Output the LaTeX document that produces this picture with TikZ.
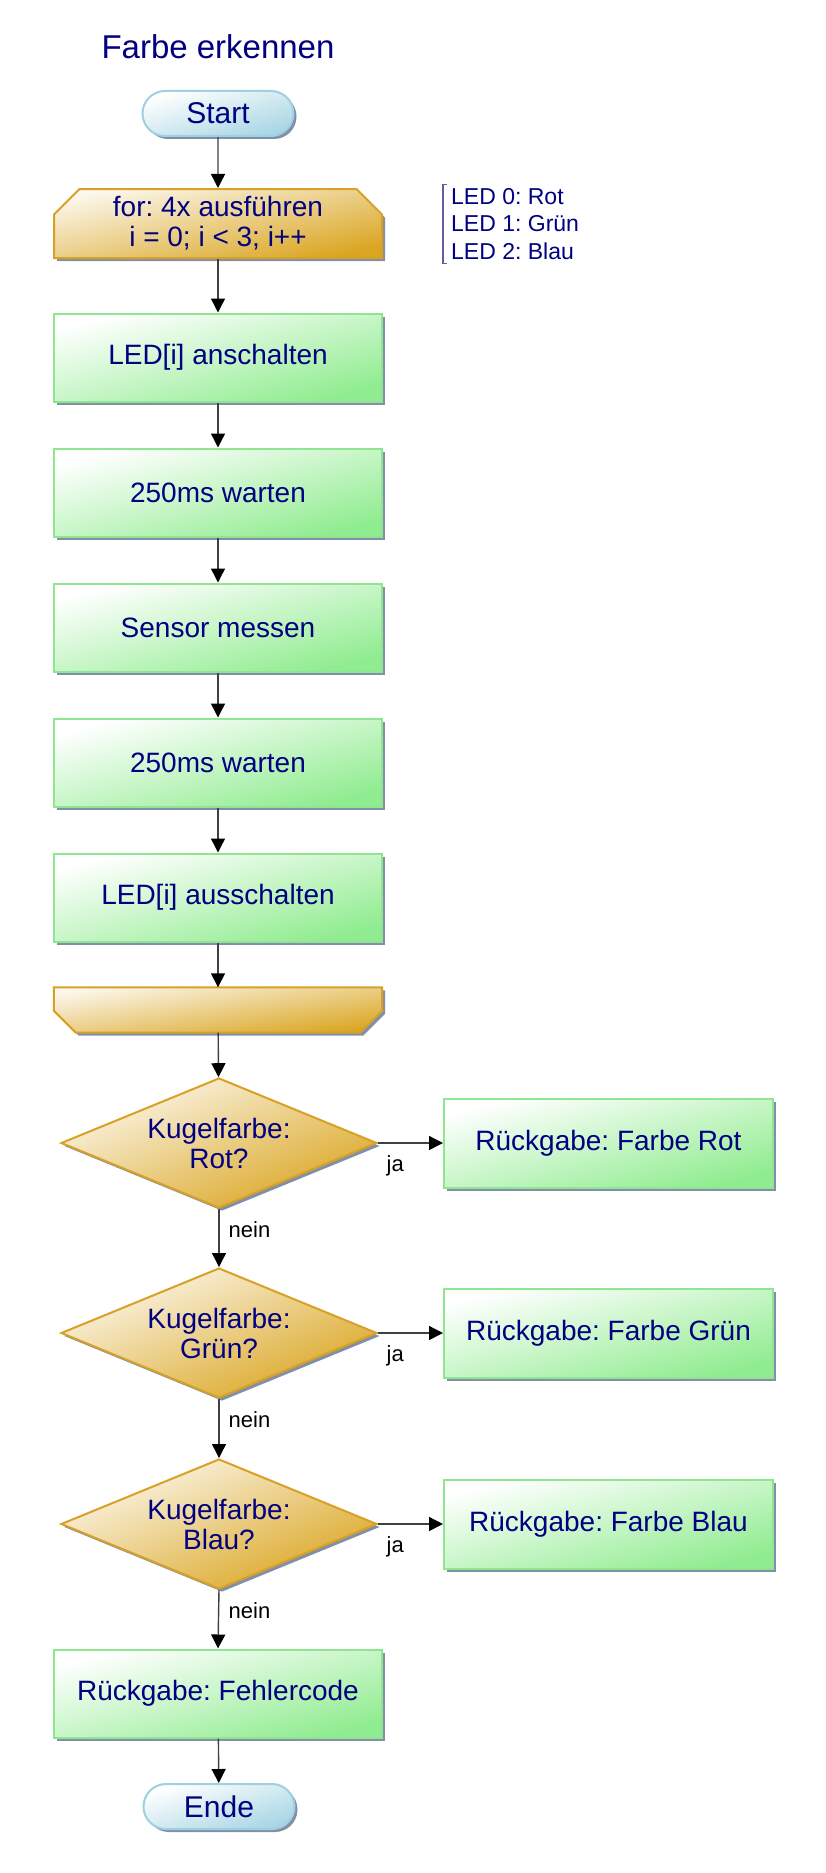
\documentclass[tikz,border=0pt]{standalone}
\usepackage{fontspec}
\setmainfont{Liberation Sans}
\usetikzlibrary{arrows.meta, positioning, shapes.geometric, shapes.misc, shadows}

\definecolor{txtblue}{RGB}{0,0,128}
\definecolor{termfill}{RGB}{168,214,228}
\definecolor{termline}{RGB}{160,208,224}
\definecolor{loopfill}{RGB}{218,165,32}
\definecolor{loopline}{RGB}{216,160,36}
\definecolor{actfill}{RGB}{144,236,144}
\definecolor{actline}{RGB}{144,230,144}
\definecolor{shadowc}{RGB}{128,144,168}
\definecolor{flowgray}{RGB}{64,64,64}
\definecolor{bracketc}{RGB}{96,96,160}

\tikzset{
    boxshadow/.style={drop shadow={shadow xshift=3pt, shadow yshift=-3pt, fill=shadowc, opacity=1}},
    boxtext/.style={text=txtblue, font=\fontsize{28}{30}\selectfont, align=center},
    goldshade/.style={draw=loopline, line width=2pt, top color=white!92!loopfill, bottom color=loopfill},
    terminal/.style={rounded rectangle, boxshadow, draw=termline, line width=2pt, top color=white, bottom color=termfill, shading angle=17, minimum width=151pt, minimum height=45pt, inner sep=0pt, boxtext, font=\fontsize{30}{32}\selectfont},
    action/.style={rectangle, boxshadow, draw=actline, line width=2pt, top color=white, bottom color=actfill, shading angle=15, minimum width=328pt, minimum height=88pt, inner sep=0pt, boxtext},
    loopbox/.style={chamfered rectangle, chamfered rectangle xsep=22pt, boxshadow, goldshade, shading angle=12, minimum width=328pt, inner sep=0pt, boxtext},
    loopclose/.style={rectangle, minimum width=328pt, minimum height=45pt, inner sep=0pt},
    decision/.style={diamond, aspect=2.4, boxshadow, goldshade, shading angle=22, minimum width=316pt, minimum height=130pt, inner sep=0pt, boxtext},
    flow/.style={draw=flowgray, line width=1.4pt, -{Triangle[length=14pt, width=14pt, color=black]}},
    lbl/.style={font=\fontsize{22}{24}\selectfont, text=black, inner sep=0pt},
    note/.style={font=\fontsize{23}{27.5}\selectfont, text=txtblue, align=left, inner xsep=8pt, inner ysep=4pt},
}

\begin{document}
\frenchspacing
\begin{tikzpicture}[x=1pt, y=1pt]
    \useasboundingbox (0,0) rectangle (825,-1873);
    \node[text=txtblue, font=\fontsize{33}{36}\selectfont] (title) at (218,-47) {Farbe erkennen};
    \node[terminal] (start) at (218,-113.5) {Start};
    \node[loopbox, minimum height=69pt, chamfered rectangle corners={north west, north east}] (forloop) at (218,-223.5) {for: 4x ausführen\\i = 0; i < 3; i++};
    \node[action] (ledon) at (218,-357.5) {LED[i] anschalten};
    \node[action] (waitone) at (218,-492.5) {250ms warten};
    \node[action] (measure) at (218,-627.5) {Sensor messen};
    \node[action] (waittwo) at (218,-762.5) {250ms warten};
    \node[action] (ledoff) at (218,-897.5) {LED[i] ausschalten};
    \node[loopclose] (loopend) at (218,-1010) {};
    \shade[boxshadow, goldshade, shading angle=8] (loopend.north west) -- (loopend.north east) -- ([yshift=22pt]loopend.south east) -- ([xshift=-22pt]loopend.south east) -- ([xshift=22pt]loopend.south west) -- ([yshift=22pt]loopend.south west) -- cycle;
    \node[decision] (askred) at (219,-1143) {Kugelfarbe:\\Rot?};
    \node[decision] (askgreen) at (219,-1333) {Kugelfarbe:\\Grün?};
    \node[decision] (askblue) at (219,-1524) {Kugelfarbe:\\Blau?};
    \node[action, minimum width=329pt, minimum height=89pt] (retred) at (608.5,-1143) {Rückgabe: Farbe Rot};
    \node[action, minimum width=329pt, minimum height=89pt] (retgreen) at (608.5,-1333) {Rückgabe: Farbe Grün};
    \node[action, minimum width=329pt, minimum height=89pt] (retblue) at (608.5,-1524) {Rückgabe: Farbe Blau};
    \node[action] (reterr) at (218,-1693.5) {Rückgabe: Fehlercode};
    \node[terminal] (ende) at (219,-1806.5) {Ende};
    \node[note, anchor=west] (ledinfo) at (443,-224) {LED 0: Rot\\LED 1: Grün\\LED 2: Blau};
    \draw[bracketc, line width=1.2pt] ([xshift=4pt]ledinfo.north west) -- (ledinfo.north west) -- (ledinfo.south west) -- ([xshift=4pt]ledinfo.south west);
    \draw[flow] (start) -- (forloop);
    \draw[flow] (forloop) -- (ledon);
    \draw[flow] (ledon) -- (waitone);
    \draw[flow] (waitone) -- (measure);
    \draw[flow] (measure) -- (waittwo);
    \draw[flow] (waittwo) -- (ledoff);
    \draw[flow] (ledoff) -- (loopend);
    \draw[flow] (loopend) -- (askred);
    \draw[flow] (askred.east) -- node[lbl, pos=0, anchor=base west, xshift=8pt, yshift=-28pt] {ja} (retred.west);
    \draw[flow] (askgreen.east) -- node[lbl, pos=0, anchor=base west, xshift=8pt, yshift=-28pt] {ja} (retgreen.west);
    \draw[flow] (askblue.east) -- node[lbl, pos=0, anchor=base west, xshift=8pt, yshift=-28pt] {ja} (retblue.west);
    \draw[flow] (askred.south) -- node[lbl, pos=0, anchor=base west, xshift=9pt, yshift=-28pt] {nein} (askgreen.north);
    \draw[flow] (askgreen.south) -- node[lbl, pos=0, anchor=base west, xshift=9pt, yshift=-28pt] {nein} (askblue.north);
    \draw[flow] (askblue.south) -- node[lbl, pos=0, anchor=base west, xshift=9pt, yshift=-28pt] {nein} (reterr.north);
    \draw[flow] (reterr) -- (ende);
\end{tikzpicture}
\end{document}
